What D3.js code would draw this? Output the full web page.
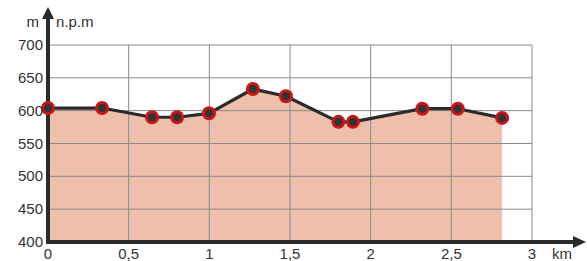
<!DOCTYPE html>
<html>
<head>
<meta charset="utf-8">
<script src="https://cdn.jsdelivr.net/npm/d3@7"></script>
<style>
	body { margin: 0; background: white; }
	text { font-family: "Liberation Sans", Arial, sans-serif; fill: #333; }
</style>
</head>
<body>
<div id="chart"></div>
<script>
// Profile data: distance (km) and altitude (m n.p.m).
let distances = [0, 0.335, 0.645, 0.80, 0.998, 1.27, 1.475, 1.80, 1.89, 2.32, 2.54, 2.815];
let altitudes = [604, 604, 590, 590, 596, 633, 622, 583, 583, 603, 603, 589];

let xTicks = [0, 0.5, 1, 1.5, 2, 2.5, 3];
let xTickLabels = ["0", "0,5", "1", "1,5", "2", "2,5", "3"];
let yTicks = [400, 450, 500, 550, 600, 650, 700];


let width = 587, height = 261;

let svg = d3.select("#chart")
  .append("svg")
	.attr("width", width)
	.attr("height", height);

let x = d3.scaleLinear().domain([0, 3]).range([48, 532]);
let y = d3.scaleLinear().domain([400, 700]).range([242, 45]);

let points = distances.map((d,i)=>[d, altitudes[i]]);


// Filled area under the profile.
let area = d3.area()
  .x(d=>x(d[0]))
  .y0(y(400))
  .y1(d=>y(d[1]));

svg.append("path")
  .attr("d", area(points))
  .attr("fill", "#eebfab");


// Grid.
let grid = svg.append("g").attr("class", "grid");

grid.selectAll("line.h")
  .data(yTicks.slice(1))
  .enter()
  .append("line")
	.attr("class", "h")
	.attr("x1", x(0))
	.attr("x2", x(3))
	.attr("y1", d=>y(d))
	.attr("y2", d=>y(d))
	.attr("stroke", "#8a8a8a")
	.attr("stroke-width", 1);

grid.selectAll("line.v")
  .data(xTicks.slice(1))
  .enter()
  .append("line")
	.attr("class", "v")
	.attr("x1", d=>x(d))
	.attr("x2", d=>x(d))
	.attr("y1", y(700))
	.attr("y2", y(400))
	.attr("stroke", "#8a8a8a")
	.attr("stroke-width", 1);


// Profile line.
let line = d3.line()
  .x(d=>x(d[0]))
  .y(d=>y(d[1]));

svg.append("path")
  .attr("d", line(points))
  .attr("fill", "none")
  .attr("stroke", "#2b2b2b")
  .attr("stroke-width", 3.2)
  .attr("stroke-linejoin", "round");


// Axes with arrows.
let axisColor = "#2b2b2b";

svg.append("line")
  .attr("x1", x(0)).attr("x2", x(0))
  .attr("y1", y(400) + 2).attr("y2", 16)
  .attr("stroke", axisColor)
  .attr("stroke-width", 4);

svg.append("path")
  .attr("d", `M${x(0)-6},19 L${x(0)},7 L${x(0)+6},19 Z`)
  .attr("fill", axisColor);

svg.append("line")
  .attr("x1", x(0) - 2).attr("x2", 576)
  .attr("y1", y(400)).attr("y2", y(400))
  .attr("stroke", axisColor)
  .attr("stroke-width", 4);

svg.append("path")
  .attr("d", `M573,${y(400)-6} L586,${y(400)} L573,${y(400)+6} Z`)
  .attr("fill", axisColor);


// Markers.
let markers = svg.append("g").attr("class", "markers");

markers.selectAll("circle.outer")
  .data(points)
  .enter()
  .append("circle")
	.attr("class", "outer")
	.attr("cx", d=>x(d[0]))
	.attr("cy", d=>y(d[1]))
	.attr("r", 7)
	.attr("fill", "#c8161b");

markers.selectAll("circle.inner")
  .data(points)
  .enter()
  .append("circle")
	.attr("class", "inner")
	.attr("cx", d=>x(d[0]))
	.attr("cy", d=>y(d[1]))
	.attr("r", 4)
	.attr("fill", "#333");


// Tick labels.
svg.selectAll("text.ylabel")
  .data(yTicks)
  .enter()
  .append("text")
	.attr("class", "ylabel")
	.attr("x", 43)
	.attr("y", d=>y(d) + 5)
	.attr("text-anchor", "end")
	.attr("font-size", 15)
	.text(d=>d);

svg.selectAll("text.xlabel")
  .data(xTicks)
  .enter()
  .append("text")
	.attr("class", "xlabel")
	.attr("x", d=>x(d))
	.attr("y", 259)
	.attr("text-anchor", "middle")
	.attr("font-size", 15)
	.text((d,i)=>xTickLabels[i]);


// Axis titles.
svg.append("text")
  .attr("x", 39).attr("y", 27)
  .attr("text-anchor", "end")
  .attr("font-size", 15)
  .text("m");

svg.append("text")
  .attr("x", 56).attr("y", 27)
  .attr("font-size", 15)
  .text("n.p.m");

svg.append("text")
  .attr("x", 552).attr("y", 259)
  .attr("font-size", 15)
  .text("km");
</script>
</body>
</html>
